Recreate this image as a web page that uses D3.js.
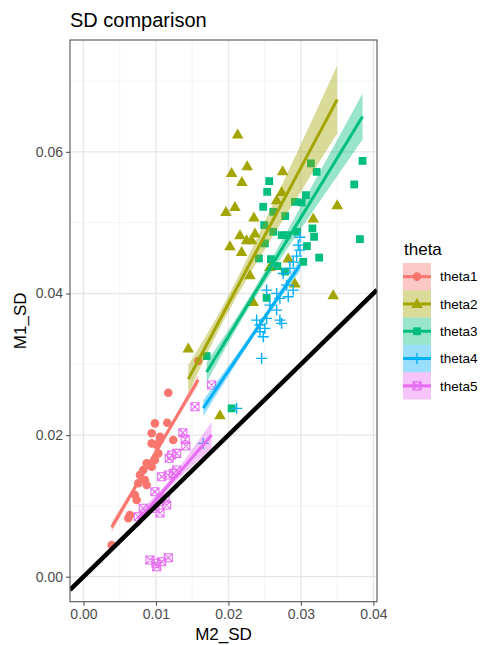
<!DOCTYPE html>
<html>
<head>
<meta charset="utf-8">
<script src="https://cdn.jsdelivr.net/npm/d3@7"></script>
<style>
  body { margin: 0; background: #fff; }
  svg { font-family: "Liberation Sans", Arial, sans-serif; }
</style>
</head>
<body>
<div id="chart"></div>
<script>
// Data (M2_SD, M1_SD)
const groups = ["theta1", "theta2", "theta3", "theta4", "theta5"];
const colors = ["#F8766D", "#A3A500", "#00BF7D", "#00B0F6", "#E76BF3"];

const theta1X = [0.01583, 0.01170, 0.00986, 0.01156, 0.00941, 0.01055, 0.01055, 0.01010, 0.00941, 0.01239, 0.01032, 0.00986, 0.00872, 0.00941, 0.00825, 0.00779, 0.00848, 0.00756, 0.00872, 0.00710, 0.00734, 0.00641, 0.00618, 0.00389];
const theta1Y = [0.03046, 0.02598, 0.02166, 0.02174, 0.02025, 0.01977, 0.01930, 0.01859, 0.01883, 0.01930, 0.01742, 0.01648, 0.01601, 0.01553, 0.01506, 0.01436, 0.01365, 0.01319, 0.01295, 0.01154, 0.01083, 0.00871, 0.00825, 0.00447];

const theta2X = [0.02127, 0.02259, 0.02044, 0.02186, 0.02748, 0.02090, 0.01966, 0.02734, 0.02665, 0.02352, 0.03501, 0.03170, 0.02159, 0.02250, 0.02320, 0.02366, 0.02021, 0.02182, 0.02825, 0.02572, 0.02297, 0.02917, 0.02342, 0.03446, 0.01446, 0.01883];
const theta2Y = [0.06246, 0.05798, 0.05704, 0.05577, 0.05728, 0.05224, 0.05153, 0.05436, 0.05318, 0.05074, 0.05248, 0.05060, 0.04824, 0.04754, 0.04754, 0.04848, 0.04669, 0.04589, 0.04495, 0.04377, 0.04260, 0.04142, 0.03883, 0.03977, 0.03225, 0.02283];

const theta3X = [0.03851, 0.03735, 0.03138, 0.03217, 0.02563, 0.02535, 0.03069, 0.02917, 0.03010, 0.02480, 0.02618, 0.02783, 0.02494, 0.02618, 0.02734, 0.02803, 0.02949, 0.03159, 0.03182, 0.03814, 0.03083, 0.02503, 0.03252, 0.03032, 0.02421, 0.02586, 0.02676, 0.02779, 0.02527, 0.01699, 0.02044];
const theta3Y = [0.05873, 0.05540, 0.05837, 0.05718, 0.05587, 0.05436, 0.05389, 0.05294, 0.05286, 0.05224, 0.05153, 0.05093, 0.04966, 0.04871, 0.04824, 0.04824, 0.04871, 0.04919, 0.04800, 0.04768, 0.04669, 0.04707, 0.04507, 0.04447, 0.04495, 0.04485, 0.04387, 0.04309, 0.03939, 0.03116, 0.02378];

const theta4X = [0.02986, 0.02963, 0.02986, 0.02941, 0.02894, 0.02848, 0.02756, 0.02894, 0.02803, 0.02825, 0.02527, 0.02665, 0.02710, 0.02572, 0.02665, 0.02389, 0.02527, 0.02710, 0.02734, 0.02434, 0.02503, 0.02434, 0.02480, 0.02458, 0.02113, 0.01652];
const theta4Y = [0.04794, 0.04683, 0.04612, 0.04528, 0.04443, 0.04354, 0.04283, 0.04048, 0.04118, 0.03953, 0.04048, 0.04001, 0.03931, 0.03836, 0.03765, 0.03624, 0.03648, 0.03624, 0.03578, 0.03554, 0.03507, 0.03459, 0.03388, 0.03083, 0.02378, 0.01883];

const theta5X = [0.01768, 0.01538, 0.01372, 0.01404, 0.01414, 0.01286, 0.01217, 0.01183, 0.01079, 0.01170, 0.01239, 0.01286, 0.00986, 0.01124, 0.01055, 0.01148, 0.00986, 0.00825, 0.00756, 0.01055, 0.00917, 0.01000, 0.01079, 0.01170, 0.01010];
const theta5Y = [0.02707, 0.02400, 0.02033, 0.01940, 0.01845, 0.01742, 0.01718, 0.01672, 0.01412, 0.01436, 0.01460, 0.01506, 0.01200, 0.01107, 0.01059, 0.01012, 0.00966, 0.00966, 0.00847, 0.00899, 0.00236, 0.00189, 0.00212, 0.00268, 0.00141];

// Fitted lm lines (start / end of each line)
const fitX0 = [0.00389, 0.01446, 0.01699, 0.01652, 0.00756];
const fitX1 = [0.01583, 0.03501, 0.03851, 0.02986, 0.01768];
const fitY0 = [0.00697, 0.02790, 0.02890, 0.02380, 0.00800];
const fitY1 = [0.02780, 0.06740, 0.06500, 0.04400, 0.02000];
// Half-height of the 95% band at the start, narrowest point and end
const bandStart = [0.00071, 0.00198, 0.00141, 0.00113, 0.00113];
const bandMin   = [0.00035, 0.00113, 0.00071, 0.00042, 0.00056];
const bandEnd   = [0.00071, 0.00480, 0.00325, 0.00085, 0.00184];

const xTicks = [0, 0.01, 0.02, 0.03, 0.04];
const yTicks = [0, 0.02, 0.04, 0.06];
const xMinor = [0.005, 0.015, 0.025, 0.035];
const yMinor = [0.01, 0.03, 0.05, 0.07];

const seriesX = [theta1X, theta2X, theta3X, theta4X, theta5X];
const seriesY = [theta1Y, theta2Y, theta3Y, theta4Y, theta5Y];

// Layout
const width = 481, height = 645;
const panel = { left: 70, right: 377, top: 40, bottom: 601.7 };

const svg = d3.select("#chart").append("svg")
    .attr("width", width)
    .attr("height", height);

const x = d3.scaleLinear().domain([-0.00186, 0.0405]).range([panel.left, panel.right]);
const y = d3.scaleLinear().domain([-0.00353, 0.0758]).range([panel.bottom, panel.top]);

svg.append("defs").append("clipPath").attr("id", "clip")
  .append("rect")
    .attr("x", panel.left).attr("y", panel.top)
    .attr("width", panel.right - panel.left)
    .attr("height", panel.bottom - panel.top);

// Grid
const grid = svg.append("g");
grid.selectAll(".vminor").data(xMinor).join("line")
    .attr("x1", d => x(d)).attr("x2", d => x(d))
    .attr("y1", panel.top).attr("y2", panel.bottom)
    .attr("stroke", "#f0f0f0").attr("stroke-width", 0.8);
grid.selectAll(".hminor").data(yMinor).join("line")
    .attr("y1", d => y(d)).attr("y2", d => y(d))
    .attr("x1", panel.left).attr("x2", panel.right)
    .attr("stroke", "#f0f0f0").attr("stroke-width", 0.8);
grid.selectAll(".vmajor").data(xTicks).join("line")
    .attr("x1", d => x(d)).attr("x2", d => x(d))
    .attr("y1", panel.top).attr("y2", panel.bottom)
    .attr("stroke", "#e6e6e6").attr("stroke-width", 1.3);
grid.selectAll(".hmajor").data(yTicks).join("line")
    .attr("y1", d => y(d)).attr("y2", d => y(d))
    .attr("x1", panel.left).attr("x2", panel.right)
    .attr("stroke", "#e6e6e6").attr("stroke-width", 1.3);

// Point shapes (ggplot 16, 17, 15, 3, 7)
function drawShape(g, i, col) {
  if (i === 0) {
    g.append("circle").attr("r", 4.3).attr("fill", col);
  } else if (i === 1) {
    g.append("path").attr("d", d3.symbol(d3.symbolTriangle, 58)()).attr("fill", col)
      .attr("transform", "translate(0,0.8)");
  } else if (i === 2) {
    g.append("rect").attr("x", -3.9).attr("y", -3.9).attr("width", 7.8).attr("height", 7.8).attr("fill", col);
  } else if (i === 3) {
    g.append("path").attr("d", "M-5.5,0H5.5M0,-5.5V5.5")
      .attr("stroke", col).attr("stroke-width", 1.4).attr("fill", "none");
  } else {
    g.append("path").attr("d", "M-4,-4H4V4H-4ZM-4,-4L4,4M-4,4L4,-4")
      .attr("stroke", col).attr("stroke-width", 1.1).attr("fill", "none");
  }
}

const pointsLayer = svg.append("g").attr("clip-path", "url(#clip)");
groups.forEach((gname, i) => {
  seriesX[i].forEach((v, k) => {
    const g = pointsLayer.append("g").attr("transform", `translate(${x(v)},${y(seriesY[i][k])})`);
    drawShape(g, i, colors[i]);
  });
});

// Smooth layer: straight fit with a confidence band whose half-height
// follows the usual lm shape sqrt(a + b (x - m)^2), pinned to the read widths.
function bandFor(i) {
  const x0 = fitX0[i], x1 = fitX1[i];
  const hs = bandStart[i], hm = bandMin[i], he = bandEnd[i];
  const r = Math.sqrt((hs * hs - hm * hm) / (he * he - hm * hm));
  const m = (x0 + r * x1) / (1 + r);
  const c1 = (he * he - hm * hm) / ((x1 - m) * (x1 - m));
  return d3.range(60).map(j => {
    const xv = x0 + (x1 - x0) * j / 59;
    const fit = fitY0[i] + (fitY1[i] - fitY0[i]) * (xv - x0) / (x1 - x0);
    const h = Math.sqrt(hm * hm + c1 * (xv - m) * (xv - m));
    return { x: xv, y: fit, ymin: fit - h, ymax: fit + h };
  });
}

const smoothLayer = svg.append("g").attr("clip-path", "url(#clip)");
groups.forEach((gname, i) => {
  const band = bandFor(i);
  smoothLayer.append("path")
    .attr("d", d3.area().x(d => x(d.x)).y0(d => y(d.ymin)).y1(d => y(d.ymax))(band))
    .attr("fill", colors[i]).attr("fill-opacity", 0.4);
  smoothLayer.append("path")
    .attr("d", d3.line().x(d => x(d.x)).y(d => y(d.y))(band))
    .attr("fill", "none").attr("stroke", colors[i]).attr("stroke-width", 3);
});

// Identity line y = x
const idLine = x.domain();
smoothLayer.append("line")
    .attr("x1", x(idLine[0])).attr("y1", y(idLine[0]))
    .attr("x2", x(idLine[1])).attr("y2", y(idLine[1]))
    .attr("stroke", "#000").attr("stroke-width", 4.5);

// Panel border
svg.append("rect")
    .attr("x", panel.left).attr("y", panel.top)
    .attr("width", panel.right - panel.left).attr("height", panel.bottom - panel.top)
    .attr("fill", "none").attr("stroke", "#555").attr("stroke-width", 1.1);

// Axes
const fmt = d3.format(".2f");
const xAxis = svg.append("g")
    .attr("transform", `translate(0,${panel.bottom})`)
    .call(d3.axisBottom(x).tickValues(xTicks).tickFormat(fmt).tickSize(4).tickPadding(3));
const yAxis = svg.append("g")
    .attr("transform", `translate(${panel.left},0)`)
    .call(d3.axisLeft(y).tickValues(yTicks).tickFormat(fmt).tickSize(4).tickPadding(3));
[xAxis, yAxis].forEach(ax => {
  ax.select(".domain").remove();
  ax.selectAll(".tick line").attr("stroke", "#555").attr("stroke-width", 1.1);
  ax.selectAll(".tick text").attr("fill", "#4d4d4d").style("font-size", "14px");
});

// Titles
svg.append("text").attr("x", 70).attr("y", 27)
    .style("font-size", "20px").attr("fill", "#000").text("SD comparison");
svg.append("text").attr("x", (panel.left + panel.right) / 2).attr("y", 640)
    .attr("text-anchor", "middle").style("font-size", "17px").text("M2_SD");
svg.append("text")
    .attr("transform", `translate(26,${(panel.top + panel.bottom) / 2}) rotate(-90)`)
    .attr("text-anchor", "middle").style("font-size", "17px").text("M1_SD");

// Legend
const legend = svg.append("g").attr("transform", "translate(403,263)");
legend.append("text").attr("x", 1).attr("y", -8).style("font-size", "17px").text("theta");
const keyW = 28, keyH = 27.3;
groups.forEach((gname, i) => {
  const k = legend.append("g").attr("transform", `translate(0,${i * keyH})`);
  k.append("rect").attr("width", keyW).attr("height", keyH)
    .attr("fill", colors[i]).attr("fill-opacity", 0.4);
  k.append("line").attr("x1", 0).attr("x2", keyW)
    .attr("y1", keyH / 2).attr("y2", keyH / 2)
    .attr("stroke", colors[i]).attr("stroke-width", 3);
  const p = k.append("g").attr("transform", `translate(${keyW / 2},${keyH / 2})`);
  drawShape(p, i, colors[i]);
  k.append("text").attr("x", 37).attr("y", keyH / 2).attr("dy", "0.35em")
    .style("font-size", "13.5px").attr("fill", "#000").text(gname);
});
</script>
</body>
</html>
